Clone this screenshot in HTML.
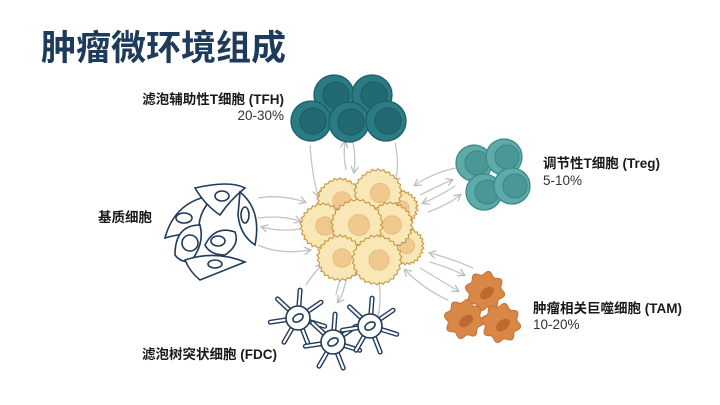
<!DOCTYPE html>
<html><head><meta charset="utf-8"><style>
html,body{margin:0;padding:0;background:#fff;}
svg{display:block;}
text{font-family:"Liberation Sans","Noto Sans CJK SC",sans-serif;}
</style></head><body>
<svg id="s" width="720" height="405" viewBox="0 0 720 405" xmlns="http://www.w3.org/2000/svg">
<defs>
<marker id="ah" markerWidth="8" markerHeight="8" refX="6" refY="4" orient="auto" markerUnits="userSpaceOnUse"><path d="M0,0 L7,4 L0,8" fill="none" stroke="#bdbdbd" stroke-width="1.3"/></marker>
</defs>
<rect width="720" height="405" fill="#fff"/>
<text x="41" y="60" font-size="35" font-weight="bold" fill="#1f3b5c">肿瘤微环境组成</text>

<g fill="none" stroke="#c4c4c4" stroke-width="1.3" marker-end="url(#ah)">
<path d="M310,145 Q312,175 318,196"/>
<path d="M346,170 Q343,155 345,142"/>
<path d="M353,142 Q356,158 354,172"/>
<path d="M395,143 Q400,165 395,182"/>
<path d="M258,198 Q280,194 305,202"/>
<path d="M258,218 Q280,215 300,221"/>
<path d="M300,229 Q280,232 262,227"/>
<path d="M258,245 Q280,255 310,250"/>
<path d="M456,168 Q435,172 415,185"/>
<path d="M420,195 Q440,185 452,180"/>
<path d="M455,186 Q440,196 423,203"/>
<path d="M428,212 Q448,205 460,195"/>
<path d="M430,262 Q450,268 464,275"/>
<path d="M473,268 Q450,258 430,253"/>
<path d="M420,268 Q440,280 458,291"/>
<path d="M448,300 Q425,290 405,270"/>
<path d="M306,285 Q312,275 322,265"/>
<path d="M336,295 Q338,283 344,273"/>
<path d="M346,280 Q343,295 338,302"/>
<path d="M378,316 Q382,300 378,272"/>
</g>

<g id="tumor"></g>
<g id="tam"></g>

<g stroke="#1d5e66" stroke-width="1.3">
<circle cx="334" cy="95" r="20" fill="#2a7b84"/><circle cx="336" cy="95" r="13" fill="#226a72"/>
<circle cx="372" cy="95" r="20" fill="#2a7b84"/><circle cx="374" cy="95" r="13" fill="#226a72"/>
<circle cx="311" cy="121" r="20" fill="#2a7b84"/><circle cx="313" cy="121" r="13" fill="#226a72"/>
<circle cx="349" cy="122" r="20" fill="#2a7b84"/><circle cx="351" cy="122" r="13" fill="#226a72"/>
<circle cx="386" cy="121" r="20" fill="#2a7b84"/><circle cx="388" cy="121" r="13" fill="#226a72"/>
</g>
<g stroke="#3d8a8c" stroke-width="1.3">
<circle cx="474" cy="163" r="18" fill="#5eaaa8"/><circle cx="477" cy="163" r="12" fill="#4a9896"/>
<circle cx="504" cy="157" r="18" fill="#5eaaa8"/><circle cx="507" cy="157" r="12" fill="#4a9896"/>
<circle cx="484" cy="192" r="18" fill="#5eaaa8"/><circle cx="487" cy="192" r="12" fill="#4a9896"/>
<circle cx="512" cy="186" r="18" fill="#5eaaa8"/><circle cx="515" cy="186" r="12" fill="#4a9896"/>
</g>

<g fill="#fff" stroke="#1f3b5c" stroke-width="1.6">
<path d="M165,238 Q175,200 215,195 Q195,215 200,235 Q185,232 165,238Z"/>
<path d="M195,188 Q230,180 245,188 Q230,200 220,215 Q205,205 195,188Z"/>
<path d="M240,192 Q262,210 255,245 Q240,235 238,215Z"/>
<path d="M175,255 Q175,225 200,225 Q205,245 190,262 Q180,262 175,255Z"/>
<path d="M205,245 Q215,225 235,232 Q240,245 225,255 Q210,255 205,245Z"/>
<path d="M185,260 Q215,250 245,262 Q225,270 200,280 Q190,272 185,260Z"/>
<ellipse cx="184" cy="218" rx="8" ry="5"/><ellipse cx="222" cy="196" rx="7" ry="5"/><ellipse cx="245" cy="215" rx="4" ry="8"/>
<circle cx="190" cy="243" r="8"/><ellipse cx="218" cy="241" rx="7" ry="5"/><ellipse cx="215" cy="264" rx="7" ry="4"/>
</g>

<g id="fdc" fill="#fff" stroke="#1f3b5c" stroke-width="1.6"></g>

<g font-size="13.5" fill="#1a1a1a">
<text x="284" y="104" text-anchor="end" font-weight="bold">滤泡辅助性T细胞 (TFH)</text>
<text x="284" y="120" text-anchor="end" fill="#333">20-30%</text>
<text x="543" y="168" font-weight="bold">调节性T细胞 (Treg)</text>
<text x="543" y="185" fill="#333">5-10%</text>
<text x="98" y="222" font-weight="bold">基质细胞</text>
<text x="533" y="313" font-weight="bold">肿瘤相关巨噬细胞 (TAM)</text>
<text x="533" y="329" fill="#333">10-20%</text>
<text x="142" y="359" font-weight="bold">滤泡树突状细胞 (FDC)</text>
</g>
</svg>
<script>
var NS="http://www.w3.org/2000/svg";
function blob(cx,cy,r,n,amp){var d="";for(var i=0;i<=n*2;i++){var a=i/(n*2)*Math.PI*2;var rr=r+(i%2?amp:-amp)*(0.6+((i*7)%5)/8);d+=(i?"L":"M")+(cx+rr*Math.cos(a)).toFixed(1)+","+(cy+rr*Math.sin(a)).toFixed(1);}return d+"Z";}
function el(g,t,a){var e=document.createElementNS(NS,t);for(var k in a)e.setAttribute(k,a[k]);g.appendChild(e);return e;}
var T=document.getElementById("tumor");
[[400,208,17],[405,246,18],[340,201,22],[378,193,23],[323,226,22],[390,225,22],[357,225,25],[340,258,22],[377,260,24]].forEach(function(c){
el(T,"path",{d:blob(c[0],c[1],c[2],26,1.2),fill:"#f9e7b8",stroke:"#c9963f","stroke-width":1.1});
el(T,"circle",{cx:c[0]+2,cy:c[1],r:c[2]*0.42,fill:"#f0c98f",stroke:"#e6b677","stroke-width":0.8});});
var M=document.getElementById("tam");
[[485,291],[464,319],[501,323]].forEach(function(c){
var d="";for(var i=0;i<=64;i++){var a=i/64*Math.PI*2;var rr=18+2*Math.sin(a*8);d+=(i?"L":"M")+(c[0]+rr*Math.cos(a)).toFixed(1)+","+(c[1]+rr*Math.sin(a)).toFixed(1);}
el(M,"path",{d:d+"Z",fill:"#d98747",stroke:"#c27336","stroke-width":1});
el(M,"ellipse",{cx:c[0]+2,cy:c[1]+2,rx:8,ry:5,transform:"rotate(-40 "+(c[0]+2)+" "+(c[1]+2)+")",fill:"#bc6a30"});});
var F=document.getElementById("fdc");
[[298,318],[333,342],[370,326]].forEach(function(c){
for(var i=0;i<7;i++){var a=i/7*Math.PI*2+0.3;var x2=(c[0]+28*Math.cos(a)).toFixed(1),y2=(c[1]+28*Math.sin(a)).toFixed(1);
el(F,"line",{x1:c[0],y1:c[1],x2:x2,y2:y2,stroke:"#1f3b5c","stroke-width":5,"stroke-linecap":"round"});
el(F,"line",{x1:c[0],y1:c[1],x2:x2,y2:y2,stroke:"#fff","stroke-width":2.2,"stroke-linecap":"round"});}
el(F,"circle",{cx:c[0],cy:c[1],r:12});
el(F,"ellipse",{cx:c[0],cy:c[1],rx:5.5,ry:3.5,transform:"rotate(-30 "+c[0]+" "+c[1]+")"});});
</script>
</body></html>
